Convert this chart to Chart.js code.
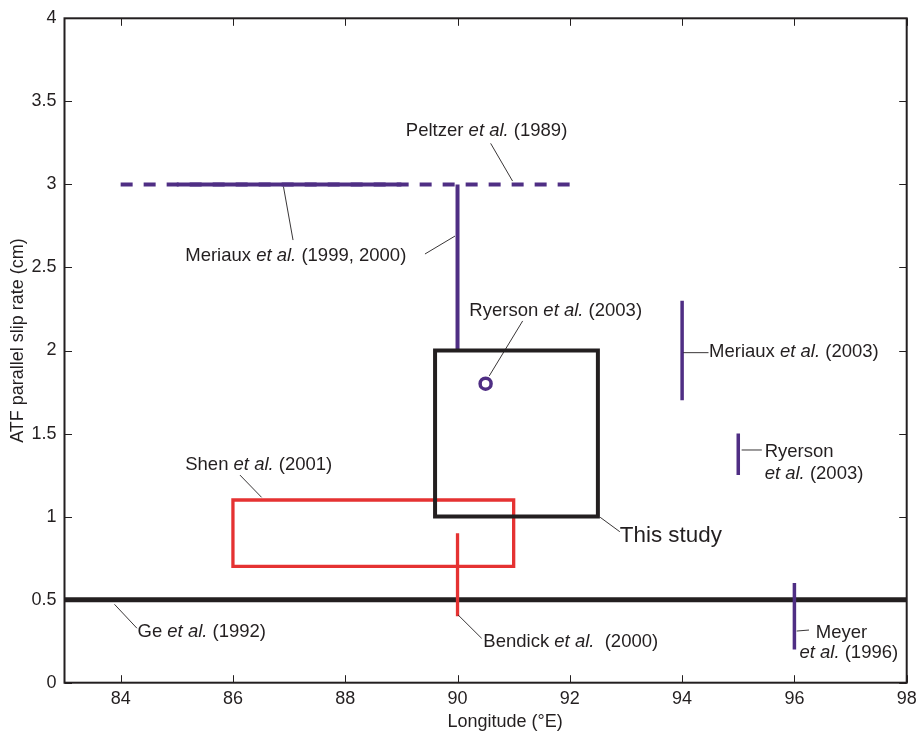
<!DOCTYPE html>
<html><head><meta charset="utf-8">
<script src="https://cdn.jsdelivr.net/npm/chart.js@4.4.0/dist/chart.umd.min.js"></script>
<style>html,body{margin:0;padding:0;background:#fff;}</style>
</head><body>
<canvas id="c" width="918" height="731"></canvas>
<script>
// ---- axis ticks ----
const xTicks = [84, 86, 88, 90, 92, 94, 96, 98];
const yTicks = [0, 0.5, 1, 1.5, 2, 2.5, 3, 3.5, 4];
const yTickLabels = ['0', '0.5', '1', '1.5', '2', '2.5', '3', '3.5', '4'];

// ---- data (longitude °E, slip rate cm) ----
const peltzer1989 = [[84, 3], [92, 3]];
const meriaux1999 = [[85, 3], [89, 3]];
const meriauxRange = [[90, 3], [90, 2]];
const thisStudy = [[89.6, 1], [92.5, 1], [92.5, 2], [89.6, 2], [89.6, 1]];
const shen2001 = [[86, 0.7], [91, 0.7], [91, 1.1], [86, 1.1], [86, 0.7]];
const bendick2000 = [[90, 0.4], [90, 0.9]];
const ge1992 = [[83, 0.5], [98, 0.5]];
const meriaux2003 = [[94, 1.7], [94, 2.3]];
const ryerson2003b = [[95, 1.25], [95, 1.5]];
const meyer1996 = [[96, 0.2], [96, 0.6]];
const ryerson2003 = [[90.5, 1.8]];

const PURPLE = '#4f2e84', RED = '#e53232', BLACK = '#231f20';
const FONT = '"Liberation Sans", Arial, Helvetica, sans-serif';

const pts = a => a.map(p => ({x: p[0], y: p[1]}));
function lineDS(arr, color, width, extra) {
  return Object.assign({data: pts(arr), showLine: true, borderColor: color, borderWidth: width,
    pointRadius: 0, pointHoverRadius: 0, fill: false, tension: 0, borderCapStyle: 'butt',
    borderJoinStyle: 'miter'}, extra || {});
}

// annotation labels (in data units)
const labels = [
  {pos: [89.08, 3.32], parts: [['Peltzer ', 0], ['et al.', 1], [' (1989)', 0]], leaders: [[[90.59, 3.247], [90.98, 3.02]]]},
  {pos: [85.15, 2.569], parts: [['Meriaux ', 0], ['et al.', 1], [' (1999, 2000)', 0]], leaders: [[[86.90, 2.986], [87.07, 2.665]], [[89.42, 2.581], [89.955, 2.689]]]},
  {pos: [90.21, 2.24], parts: [['Ryerson ', 0], ['et al.', 1], [' (2003)', 0]], leaders: [[[91.16, 2.178], [90.565, 1.847]]]},
  {pos: [85.15, 1.311], parts: [['Shen ', 0], ['et al.', 1], [' (2001)', 0]], leaders: [[[86.125, 1.25], [86.51, 1.116]]]},
  {pos: [92.89, 0.883], size: 22.4, parts: [['This study', 0]], leaders: [[[92.54, 0.996], [92.89, 0.909]]]},
  {pos: [94.48, 1.99], parts: [['Meriaux ', 0], ['et al.', 1], [' (2003)', 0]], leaders: [[[94.02, 1.987], [94.47, 1.987]]]},
  {pos: [95.47, 1.387], parts: [['Ryerson', 0]], leaders: [[[95.06, 1.401], [95.42, 1.401]]]},
  {pos: [95.47, 1.256], parts: [['et al.', 1], [' (2003)', 0]]},
  {pos: [96.38, 0.297], parts: [['Meyer', 0]], leaders: [[[96.04, 0.311], [96.26, 0.317]]]},
  {pos: [96.09, 0.177], parts: [['et al.', 1], [' (1996)', 0]]},
  {pos: [84.30, 0.307], parts: [['Ge ', 0], ['et al.', 1], [' (1992)', 0]], leaders: [[[83.89, 0.472], [84.29, 0.328]]]},
  {pos: [90.46, 0.247], parts: [['Bendick ', 0], ['et al.', 1], ['  (2000)', 0]], leaders: [[[90.01, 0.408], [90.43, 0.267]]]}
];

const framePlugin = {
  id: 'frame',
  afterDatasetsDraw(chart) {
    const ctx = chart.ctx, a = chart.chartArea, xs = chart.scales.x, ys = chart.scales.y;
    ctx.save();
    // leaders
    ctx.strokeStyle = BLACK; ctx.lineWidth = 0.9;
    labels.forEach(l => (l.leaders || []).forEach(s => {
      ctx.beginPath();
      ctx.moveTo(xs.getPixelForValue(s[0][0]), ys.getPixelForValue(s[0][1]));
      ctx.lineTo(xs.getPixelForValue(s[1][0]), ys.getPixelForValue(s[1][1]));
      ctx.stroke();
    }));
    // label text
    ctx.fillStyle = BLACK; ctx.textBaseline = 'middle'; ctx.textAlign = 'left';
    labels.forEach(l => {
      let x = xs.getPixelForValue(l.pos[0]);
      const y = ys.getPixelForValue(l.pos[1]);
      const sz = l.size || 18.5;
      l.parts.forEach(p => {
        ctx.font = (p[1] ? 'italic ' : '') + sz + 'px ' + FONT;
        ctx.fillText(p[0], x, y);
        x += ctx.measureText(p[0]).width;
      });
    });
    // frame
    ctx.strokeStyle = BLACK; ctx.lineWidth = 2;
    ctx.strokeRect(a.left, a.top, a.right - a.left, a.bottom - a.top);
    // inward ticks
    ctx.lineWidth = 1;
    const TL = 7.5;
    xs.ticks.forEach(t => {
      const px = Math.round(xs.getPixelForValue(t.value)) + 0.5;
      ctx.beginPath();
      ctx.moveTo(px, a.bottom); ctx.lineTo(px, a.bottom - TL);
      ctx.moveTo(px, a.top); ctx.lineTo(px, a.top + TL);
      ctx.stroke();
    });
    ys.ticks.forEach(t => {
      const py = Math.round(ys.getPixelForValue(t.value)) + 0.5;
      ctx.beginPath();
      ctx.moveTo(a.left, py); ctx.lineTo(a.left + TL, py);
      ctx.moveTo(a.right, py); ctx.lineTo(a.right - TL, py);
      ctx.stroke();
    });
    // tick labels
    ctx.font = '18px ' + FONT;
    ctx.textAlign = 'center'; ctx.textBaseline = 'middle';
    xs.ticks.forEach(t => ctx.fillText(String(t.value), xs.getPixelForValue(t.value), a.bottom + 16.5));
    ctx.textAlign = 'right';
    ys.ticks.forEach(t => ctx.fillText(yTickLabels[yTicks.indexOf(t.value)], a.left - 8, ys.getPixelForValue(t.value)));
    // axis titles
    ctx.textAlign = 'center';
    ctx.fillText('Longitude (°E)', (a.left + a.right) / 2 + 19.5, a.bottom + 39.5);
    ctx.save();
    ctx.translate(a.left - 46, (a.top + a.bottom) / 2 - 10);
    ctx.rotate(-Math.PI / 2);
    ctx.fillText('ATF parallel slip rate (cm)', 0, 0);
    ctx.restore();
    ctx.restore();
  }
};

new Chart(document.getElementById('c'), {
  type: 'scatter',
  data: {
    datasets: [
      {data: pts(ryerson2003), pointRadius: 5.5, pointBorderWidth: 3.5, pointBorderColor: PURPLE,
       pointBackgroundColor: '#ffffff', pointHoverRadius: 5.5, showLine: false},
      lineDS(meyer1996, PURPLE, 3.5),
      lineDS(ryerson2003b, PURPLE, 3.5),
      lineDS(meriaux2003, PURPLE, 3.5),
      lineDS(thisStudy, BLACK, 4, {borderCapStyle: 'square'}),
      lineDS(shen2001, RED, 3.3, {borderCapStyle: 'square'}),
      lineDS(bendick2000, RED, 3.3),
      lineDS(meriauxRange, PURPLE, 4),
      lineDS(meriaux1999, PURPLE, 4),
      lineDS(peltzer1989, PURPLE, 4, {borderDash: [12, 11]}),
      lineDS(ge1992, BLACK, 5)
    ]
  },
  options: {
    responsive: false,
    devicePixelRatio: 1,
    animation: false,
    events: [],
    layout: {padding: {left: 0, right: 11.3, top: 18.3, bottom: 0}},
    plugins: {legend: {display: false}, tooltip: {enabled: false}},
    scales: {
      x: {type: 'linear', min: 83, max: 98,
          afterBuildTicks: s => { s.ticks = xTicks.map(v => ({value: v})); },
          afterFit: s => { s.height = 48.3; },
          ticks: {display: false}, grid: {display: false}, border: {display: false}},
      y: {type: 'linear', min: 0, max: 4,
          afterBuildTicks: s => { s.ticks = yTicks.map(v => ({value: v})); },
          afterFit: s => { s.width = 64.5; },
          ticks: {display: false}, grid: {display: false}, border: {display: false}}
    }
  },
  plugins: [framePlugin]
});
</script>
</body></html>
